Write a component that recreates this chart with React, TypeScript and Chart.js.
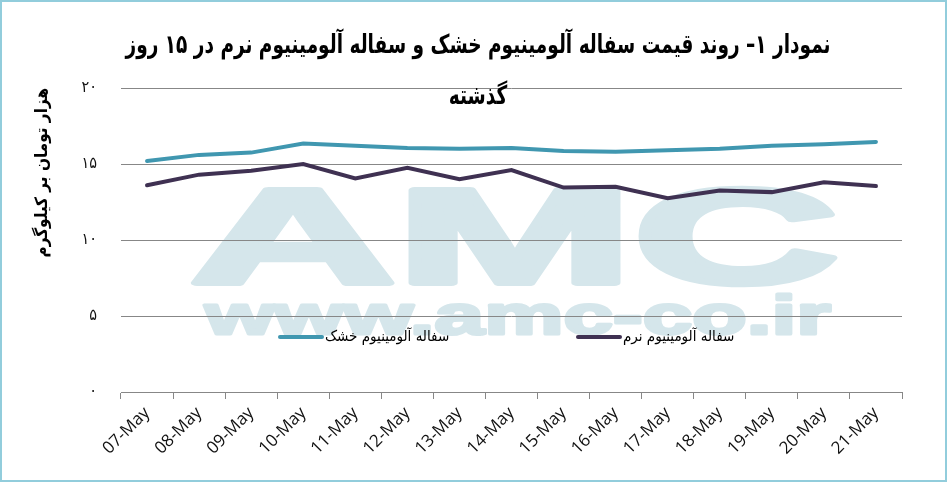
import Chart from "chart.js/auto";
import { useEffect, useRef } from "react";

const dates = [
  "07-May", "08-May", "09-May", "10-May", "11-May", "12-May", "13-May", "14-May",
  "15-May", "16-May", "17-May", "18-May", "19-May", "20-May", "21-May",
];
const dryPrices = [15.2, 15.6, 15.75, 16.35, 16.2, 16.05, 16.0, 16.05, 15.85, 15.8, 15.9, 16.0, 16.2, 16.3, 16.45];
const softPrices = [13.6, 14.3, 14.55, 15.0, 14.05, 14.75, 14.0, 14.6, 13.45, 13.5, 12.75, 13.25, 13.15, 13.8, 13.55];
const yTickLabels = ["۰", "۵", "۱۰", "۱۵", "۲۰"];

const seriesNames = ["سفاله آلومینیوم خشک", "سفاله آلومینیوم نرم"];
const titleLines = [
  "نمودار ۱– روند قیمت سفاله آلومینیوم خشک و سفاله آلومینیوم نرم در ۱۵ روز",
  "گذشته",
];
const yTitle = "هزار تومان بر کیلوگرم";

const persianFont = "'DejaVu Sans Condensed', 'DejaVu Sans', sans-serif";

// draws text squeezed or stretched horizontally to a given width, thickened by a stroke
function fitText(ctx: CanvasRenderingContext2D, text: string, x: number, y: number, width: number, weight: number) {
  const w = ctx.measureText(text).width;
  ctx.save();
  ctx.translate(x, y);
  ctx.scale(width / w, 1);
  ctx.fillText(text, 0, 0);
  if (weight > 0) {
    ctx.lineWidth = weight;
    ctx.lineJoin = "round";
    ctx.strokeText(text, 0, 0);
  }
  ctx.restore();
}

// watermark, title and in-plot legend are drawn straight onto the canvas
const decorations = {
  id: "decorations",
  beforeDraw(chart: Chart) {
    const ctx = chart.ctx;
    ctx.save();
    ctx.fillStyle = "#d5e6eb";
    ctx.strokeStyle = "#d5e6eb";
    ctx.textBaseline = "alphabetic";
    ctx.textAlign = "left";
    ctx.font = "bold 135px 'Liberation Sans', Arial, sans-serif";
    fitText(ctx, "AMC", 188, 281, 649, 6);
    ctx.font = "bold 56px 'Liberation Sans', Arial, sans-serif";
    fitText(ctx, "www.amc-co.ir", 203, 332, 626, 3);
    ctx.restore();
  },
  afterDraw(chart: Chart) {
    const ctx = chart.ctx;
    ctx.save();
    ctx.fillStyle = "#000";
    ctx.textAlign = "center";
    ctx.textBaseline = "middle";
    ctx.font = `bold 26px ${persianFont}`;
    const w = ctx.measureText(titleLines[0]).width;
    ctx.save();
    ctx.translate(476, 44);
    ctx.scale(705 / w, 1);
    ctx.fillText(titleLines[0], 0, 0);
    ctx.fillText(titleLines[1], 0, 51);
    ctx.restore();

    ctx.font = `15px ${persianFont}`;
    ctx.textAlign = "left";
    const items = [
      { x: 278, color: chart.data.datasets[0].borderColor as string, label: seriesNames[0] },
      { x: 576, color: chart.data.datasets[1].borderColor as string, label: seriesNames[1] },
    ];
    for (const item of items) {
      ctx.strokeStyle = item.color;
      ctx.lineWidth = 4;
      ctx.lineCap = "round";
      ctx.beginPath();
      ctx.moveTo(item.x, 335);
      ctx.lineTo(item.x + 42, 335);
      ctx.stroke();
      ctx.fillText(item.label, item.x + 45, 335);
    }
    ctx.restore();
  },
};

export default function App() {
  const canvasRef = useRef<HTMLCanvasElement>(null);

  useEffect(() => {
    const chart = new Chart(canvasRef.current!, {
      type: "line",
      data: {
        labels: dates,
        datasets: [
          {
            label: seriesNames[0],
            data: dryPrices,
            borderColor: "#4097b0",
            borderWidth: 4,
            pointRadius: 0,
            tension: 0,
            borderCapStyle: "round",
          },
          {
            label: seriesNames[1],
            data: softPrices,
            borderColor: "#3f3152",
            borderWidth: 4,
            pointRadius: 0,
            tension: 0,
            borderCapStyle: "round",
          },
        ],
      },
      options: {
        animation: false,
        responsive: true,
        maintainAspectRatio: false,
        layout: { padding: { top: 86, right: 43, left: 0, bottom: 0 } },
        plugins: {
          legend: { display: false },
          title: { display: false },
          tooltip: { enabled: false },
        },
        scales: {
          x: {
            offset: true,
            grid: {
              offset: true,
              drawOnChartArea: false,
              drawTicks: true,
              tickLength: 7,
              color: "#878787",
            },
            border: { display: true, color: "#878787" },
            ticks: {
              minRotation: 45,
              maxRotation: 45,
              autoSkip: false,
              padding: 4,
              color: "#111",
              font: { family: "'Open Sans', sans-serif", size: 17 },
            },
            afterFit(scale) {
              scale.height = 88;
            },
          },
          y: {
            min: 0,
            max: 20,
            ticks: {
              stepSize: 5,
              padding: 24,
              color: "#111",
              font: { family: persianFont, size: 16 },
              callback: (_value, index) => yTickLabels[index],
            },
            grid: { color: "#878787", drawTicks: false },
            border: { display: false },
            title: {
              display: true,
              text: yTitle,
              align: "end",
              color: "#000",
              padding: { top: 30, bottom: 0 },
              font: { family: persianFont, size: 17, weight: "bold" },
            },
            afterFit(scale) {
              scale.width = 119;
            },
          },
        },
      },
      plugins: [decorations],
    });

    return () => chart.destroy();
  }, []);

  return (
    <div
      style={{
        position: "absolute",
        left: 0,
        top: 0,
        width: 947,
        height: 482,
        boxSizing: "border-box",
        border: "2px solid #92cddc",
        background: "#fff",
      }}
    >
      <div style={{ position: "relative", width: "100%", height: "100%" }}>
        <canvas ref={canvasRef}></canvas>
      </div>
    </div>
  );
}
